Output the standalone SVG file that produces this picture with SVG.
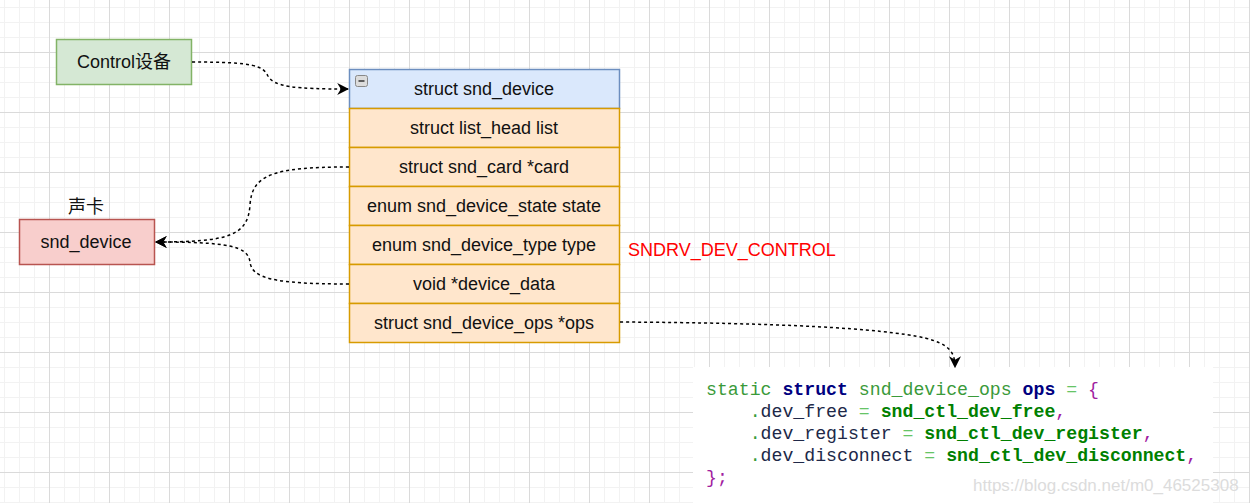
<svg xmlns="http://www.w3.org/2000/svg" width="1250" height="503" viewBox="0 0 1250 503">
<defs>
<pattern id="minor" patternUnits="userSpaceOnUse" x="4" y="7" width="15" height="15">
<path d="M0.5,0 V15 M0,0.5 H15" fill="none" stroke="#f2f2f2" stroke-width="1"/>
</pattern>
<pattern id="major" patternUnits="userSpaceOnUse" x="49" y="52" width="60" height="60">
<path d="M0.5,0 V60 M0,0.5 H60" fill="none" stroke="#dadada" stroke-width="1"/>
</pattern>
<marker id="arr" viewBox="0 0 10 10" refX="9" refY="5" markerWidth="12" markerHeight="12" markerUnits="userSpaceOnUse" orient="auto">
<path d="M0,0 L10,5 L0,10 L3,5 Z" fill="#000"/>
</marker>
<style>
.lbl{font-family:"Liberation Sans",Arial,sans-serif;font-size:18px;fill:#111;text-anchor:middle;dominant-baseline:central}
.row{fill:#ffe6cc;stroke:#d79b00;stroke-width:1.5}
.edge{fill:none;stroke:#000;stroke-width:1.5;stroke-dasharray:3 3;marker-end:url(#arr)}
.code{font-family:"Liberation Mono","DejaVu Sans Mono",monospace;font-size:18.2px;white-space:pre}
.g{fill:#3a9a3a}
.kw{fill:#000080;font-weight:bold}
.eq{fill:#66c466}
.p{fill:#a020a0}
.f{fill:#202848}
.fn{fill:#008000;font-weight:bold}
</style>
</defs>
<rect width="1250" height="503" fill="#fff"/>
<rect width="1250" height="503" fill="url(#minor)"/>
<rect width="1250" height="503" fill="url(#major)"/>

<g id="control">
<rect x="56.5" y="39.5" width="135" height="45" fill="#d5e8d4" stroke="#82b366" stroke-width="1.5"/>
<text class="lbl" x="124" y="62" style="font-family:'Liberation Sans','Noto Sans CJK SC',sans-serif">Control设备</text>
</g>

<g id="snd_device_card">
<text class="lbl" x="86" y="207" style="font-family:'Liberation Sans','Noto Sans CJK SC',sans-serif">声卡</text>
<rect x="19.5" y="219.5" width="135" height="45" fill="#f8cecc" stroke="#b85450" stroke-width="1.5"/>
<text class="lbl" x="86" y="242">snd_device</text>
</g>

<g id="struct_snd_device">
<rect x="349.5" y="69.5" width="270" height="39" fill="#dae8fc" stroke="#6c8ebf" stroke-width="1.5"/>
<rect x="355.5" y="75.5" width="12" height="11" rx="2" fill="#dcdcdc" stroke="#888" stroke-width="1"/>
<path d="M358.5,81 H364.5" stroke="#333" stroke-width="1.5"/>
<text class="lbl" x="484" y="89">struct snd_device</text>
<rect class="row" x="349.5" y="108.5" width="270" height="39"/>
<text class="lbl" x="484" y="128">struct list_head list</text>
<rect class="row" x="349.5" y="147.5" width="270" height="39"/>
<text class="lbl" x="484" y="167">struct snd_card *card</text>
<rect class="row" x="349.5" y="186.5" width="270" height="39"/>
<text class="lbl" x="484" y="206">enum snd_device_state state</text>
<rect class="row" x="349.5" y="225.5" width="270" height="39"/>
<text class="lbl" x="484" y="245">enum snd_device_type type</text>
<rect class="row" x="349.5" y="264.5" width="270" height="39"/>
<text class="lbl" x="484" y="284">void *device_data</text>
<rect class="row" x="349.5" y="303.5" width="270" height="39"/>
<text class="lbl" x="484" y="323">struct snd_device_ops *ops</text>
</g>

<g id="type_value">
<text x="628" y="256" font-family="Liberation Sans, Arial, sans-serif" font-size="18" fill="#ff0000">SNDRV_DEV_CONTROL</text>
</g>

<g id="code_block">
<rect x="693" y="367" width="520" height="136" fill="#fff"/>
<text class="code" x="706" y="395"><tspan class="g">static </tspan><tspan class="kw">struct</tspan><tspan class="g"> snd_device_ops </tspan><tspan class="kw">ops</tspan><tspan class="eq"> = </tspan><tspan class="p">{</tspan></text>
<text class="code" x="749.7" y="417"><tspan class="g">.</tspan><tspan class="f">dev_free</tspan><tspan class="eq"> = </tspan><tspan class="fn">snd_ctl_dev_free</tspan><tspan class="p">,</tspan></text>
<text class="code" x="749.7" y="439"><tspan class="g">.</tspan><tspan class="f">dev_register</tspan><tspan class="eq"> = </tspan><tspan class="fn">snd_ctl_dev_register</tspan><tspan class="p">,</tspan></text>
<text class="code" x="749.7" y="461"><tspan class="g">.</tspan><tspan class="f">dev_disconnect</tspan><tspan class="eq"> = </tspan><tspan class="fn">snd_ctl_dev_disconnect</tspan><tspan class="p">,</tspan></text>
<text class="code p" x="706" y="483">};</text>
<text x="973" y="491" font-family="Liberation Sans, Arial, sans-serif" font-size="17" fill="#dcdcdc">https://blog.csdn.net/m0_46525308</text>
</g>

<g id="connectors">
<path class="edge" d="M192,62 C255,62 263,66 268,76 C274,87 295,89 348,89"/>
<path class="edge" d="M349,167 C272,167 252,175 250,205 C248,236 228,242 156,242"/>
<path class="edge" d="M349,284 C272,284 252,278 250,262 C248,246 228,242 156,242"/>
<path class="edge" d="M620,322 C780,323 880,328 925,338 C948,344 955,351 955,367"/>
</g>
</svg>
